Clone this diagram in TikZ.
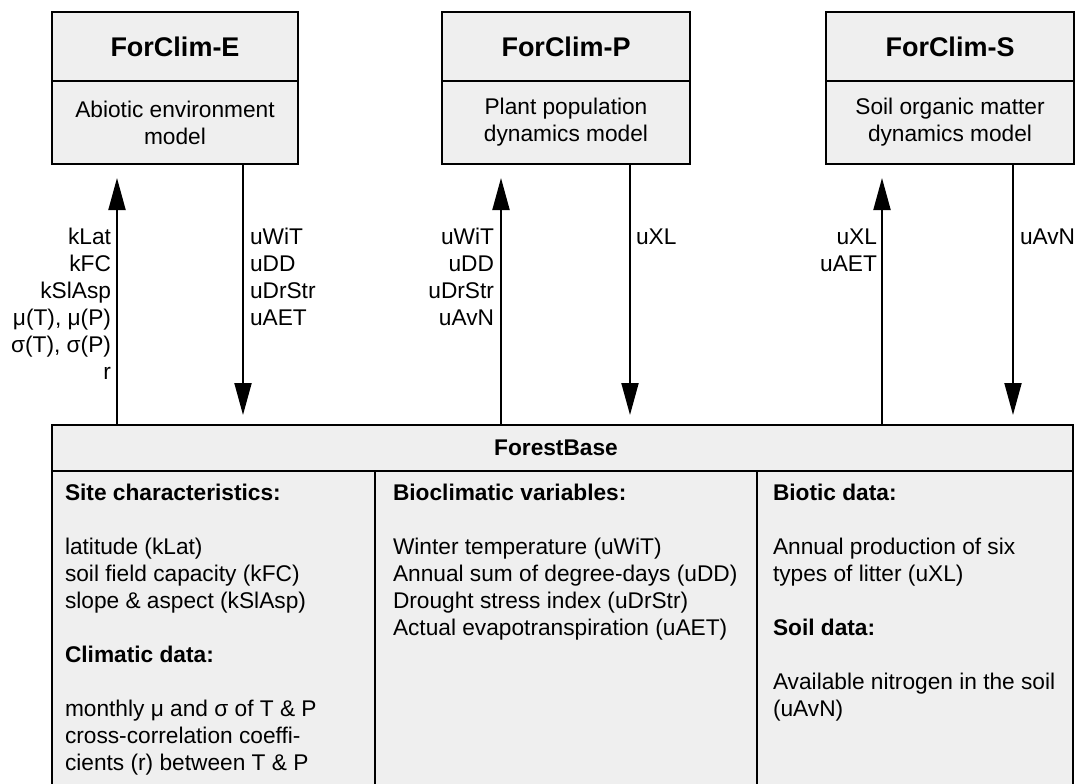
\documentclass[tikz,border=0pt]{standalone}
\usepackage{fontspec}
\setmainfont{Liberation Sans}
\usetikzlibrary{arrows.meta}
\definecolor{boxfill}{RGB}{239,239,239}
\begin{document}
\begin{tikzpicture}[x=1pt,y=-1pt,
  frame/.style={draw=black, line width=2pt, fill=boxfill, inner sep=0pt, outer sep=0pt},
  ttl/.style={font=\fontsize{27}{32}\selectfont\bfseries},
  txt/.style={font=\fontsize{22.7}{27}\selectfont},
  btxt/.style={font=\fontsize{22.7}{27}\selectfont\bfseries},
  lbl/.style={txt, inner sep=0pt, outer sep=0pt},
  arr/.style={line width=2pt, -{Triangle[length=32pt,width=17pt]}},
]
\useasboundingbox (0,0) rectangle (1077,784);
\clip (0,0) rectangle (1077,784);

% the three ForClim sub-models
\node[frame, ttl, minimum width=246pt, minimum height=69pt] (E) at (175,46.5) {ForClim-E};
\node[frame, txt, align=center, minimum width=246pt, minimum height=83pt] (Eb) at (175,122.5) {Abiotic environment\\model};

\node[frame, ttl, minimum width=248pt, minimum height=69pt] (P) at (566,46.5) {ForClim-P};
\node[frame, txt, align=center, minimum width=248pt, minimum height=83pt] (Pb) at (566,122.5) {Plant population\\dynamics model};

\node[frame, ttl, minimum width=248pt, minimum height=69pt] (S) at (950,46.5) {ForClim-S};
\node[frame, txt, align=center, minimum width=248pt, minimum height=83pt] (Sb) at (950,122.5) {Soil organic matter\\dynamics model};

% the ForestBase data store
\node[frame, minimum width=1021pt, minimum height=46pt] (FB) at (562.5,448) {};
\node[btxt, inner sep=0pt] (FBt) at (556,448) {ForestBase};
\node[frame, minimum width=323pt, minimum height=329pt] (c1) at (213.5,635.5) {};
\node[frame, minimum width=382pt, minimum height=329pt] (c2) at (566,635.5) {};
\node[frame, minimum width=316pt, minimum height=329pt] (c3) at (915,635.5) {};

\node[lbl, align=left, anchor=north west] (t1) at (65,482) {\strut\textbf{Site characteristics:}\\[27pt]
latitude (kLat)\\soil field capacity (kFC)\\slope \& aspect (kSlAsp)\\[27pt]
\textbf{Climatic data:}\\[27pt]
monthly μ and σ of T \& P\\cross-correlation coeffi-\\cients (r) between T \& P};
\node[lbl, align=left, anchor=north west] (t2) at (393,482) {\strut\textbf{Bioclimatic variables:}\\[27pt]
Winter temperature (uWiT)\\Annual sum of degree-days (uDD)\\Drought stress index (uDrStr)\\Actual evapotranspiration (uAET)};
\node[lbl, align=left, anchor=north west] (t3) at (773,482) {\strut\textbf{Biotic data:}\\[27pt]
Annual production of six\\types of litter (uXL)\\[27pt]
\textbf{Soil data:}\\[27pt]
Available nitrogen in the soil\\(uAvN)};

% data flows between ForestBase and the sub-models
\draw[arr, shorten >=14pt] (FB.north -| 117,0) -- (Eb.south -| 117,0);
\draw[arr, shorten >=10pt] (Eb.south -| 243,0) -- (FB.north -| 243,0);
\draw[arr, shorten >=14pt] (FB.north -| 501,0) -- (Pb.south -| 501,0);
\draw[arr, shorten >=10pt] (Pb.south -| 630,0) -- (FB.north -| 630,0);
\draw[arr, shorten >=14pt] (FB.north -| 882,0) -- (Sb.south -| 882,0);
\draw[arr, shorten >=10pt] (Sb.south -| 1013,0) -- (FB.north -| 1013,0);

% flow labels
\node[lbl, align=right, anchor=north east] (lE1) at (111,226) {\strut kLat\\kFC\\kSlAsp\\μ(T), μ(P)\\σ(T), σ(P)\\r};
\node[lbl, align=left, anchor=north west] (lE2) at (250,226) {\strut uWiT\\uDD\\uDrStr\\uAET};
\node[lbl, align=right, anchor=north east] (lP1) at (494,226) {\strut uWiT\\uDD\\uDrStr\\uAvN};
\node[lbl, align=left, anchor=north west] (lP2) at (636,226) {\strut uXL};
\node[lbl, align=right, anchor=north east] (lS1) at (877,226) {\strut uXL\\uAET};
\node[lbl, align=left, anchor=north west] (lS2) at (1020,226) {\strut uAvN};
\end{tikzpicture}
\end{document}
